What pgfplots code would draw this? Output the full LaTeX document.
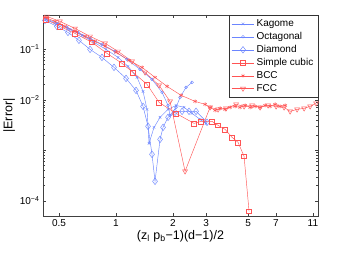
\documentclass[border=0pt]{standalone}
\usepackage{fontspec}
\setmainfont{Liberation Sans}
\usepackage{pgfplots}
\pgfplotsset{compat=1.18}
\definecolor{mblue}{rgb}{0.42,0.52,1.0}
\definecolor{mred}{rgb}{1.0,0.33,0.33}
\begin{document}
\begin{tikzpicture}
\begin{axis}[
  scale only axis, width=275pt, height=201pt,
  xmode=log, ymode=log,
  xmin=0.411, xmax=11.7, ymin=5e-5, ymax=0.48,
  xtick={0.5,1,2,3,5,7,11}, xticklabels={0.5,1,2,3,5,7,11},
  minor xtick={},
  ytick={1e-4,1e-3,1e-2,1e-1},
  yticklabels={10\textsuperscript{−4},,10\textsuperscript{−2},10\textsuperscript{−1}},
  tick label style={font=\fontsize{10}{12}\selectfont},
  xlabel={(z\textsubscript{l} p\textsubscript{b}−1)(d−1)/2},
  ylabel={|Error|},
  label style={font=\fontsize{12.5}{14}\selectfont},
  xlabel style={yshift=3pt},
  ylabel style={yshift=-2pt},
  axis line style={black!75, line width=0.5pt},
  every tick/.style={black!75, line width=0.4pt},
  major tick length=3.5pt, minor tick length=2pt,
  legend style={at={(1,1)}, anchor=north east, draw=black!80, font=\fontsize{10}{12}\selectfont, row sep=0.3pt, inner sep=2.5pt},
  legend cell align=left,
  legend image code/.code={\draw[mark repeat=2,mark phase=2] plot coordinates {(0cm,0cm) (0.4cm,0cm) (0.8cm,0cm)};},
  every axis plot/.append style={line width=0.45pt},
]
\addplot[mblue, mark=x, mark size=1.8pt] coordinates {
(0.421,0.411)(0.493,0.327)(0.571,0.249)(0.661,0.189)(0.765,0.138)(0.885,0.100)(1.025,0.0694)(1.157,0.0461)(1.292,0.0279)(1.390,0.0147)(1.459,0.00648)(1.495,0.00138)(1.589,0.00285)(1.710,0.00450)(1.884,0.00648)(2.077,0.00778)(2.290,0.00710)(2.524,0.00540)(2.783,0.00411)(2.994,0.00342)};
\addlegendentry{Kagome}
\addplot[mblue, mark=o, mark size=1.4pt] coordinates {
(0.421,0.393)(0.481,0.327)(0.550,0.273)(0.629,0.217)(0.729,0.165)(0.843,0.126)(0.988,0.0913)(1.143,0.0634)(1.340,0.0402)(1.550,0.0255)(1.752,0.0141)(1.884,0.00778)(1.931,0.00493)(2.077,0.00710)(2.182,0.0112)(2.346,0.0177)(2.524,0.0222)};
\addlegendentry{Octagonal}
\addplot[mblue, mark=diamond, mark size=3.3pt] coordinates {
(0.421,0.375)(0.487,0.285)(0.557,0.217)(0.637,0.151)(0.729,0.100)(0.843,0.0694)(0.976,0.0440)(1.130,0.0266)(1.276,0.0154)(1.390,0.00743)(1.477,0.00299)(1.550,0.000833)(1.608,0.000243)(1.710,0.00165)(1.773,0.00285)(1.884,0.00450)(2.052,0.00566)(2.235,0.00592)(2.433,0.00592)(2.650,0.00592)(3.030,0.00359)};
\addlegendentry{Diamond}
\addplot[mred, mark=square, mark size=2.4pt] coordinates {
(0.426,0.393)(0.505,0.285)(0.607,0.207)(0.746,0.138)(0.896,0.0833)(1.076,0.0528)(1.230,0.0350)(1.459,0.0203)(1.689,0.00892)(2.077,0.00540)(2.587,0.00342)(2.817,0.00375)(3.220,0.00375)(3.465,0.00313)(3.774,0.00260)(4.110,0.00181)(4.421,0.00144)(4.756,0.000761)(5.053,0.0000620)};
\addlegendentry{Simple cubic\hspace{9pt}}
\addplot[mred, mark=asterisk, mark size=2.1pt] coordinates {
(0.421,0.430)(0.476,0.359)(0.537,0.285)(0.607,0.227)(0.686,0.181)(0.774,0.144)(0.875,0.115)(1.0,0.0872)(1.172,0.0606)(1.373,0.0440)(1.608,0.0279)(1.862,0.0185)(2.208,0.0123)(2.618,0.00934)(2.957,0.00815)(3.142,0.00710)(3.340,0.00620)(3.550,0.00679)(3.774,0.00648)(4.010,0.00710)(4.263,0.00743)(4.530,0.00710)(4.814,0.00778)(5.117,0.00710)(5.437,0.00743)(5.781,0.00710)(6.144,0.00778)(6.530,0.00743)(6.939,0.00815)(7.375,0.00743)(7.838,0.00778)};
\addlegendentry{BCC}
\addplot[mred, mark=triangle, mark size=2.8pt, mark options={rotate=180}] coordinates {
(0.431,0.450)(0.505,0.359)(0.607,0.260)(0.729,0.181)(0.875,0.132)(1.025,0.0913)(1.215,0.0579)(1.424,0.0350)(1.689,0.0194)(1.931,0.00934)(2.318,0.000384)(3.142,0.00710)(3.465,0.00648)(3.819,0.00679)(4.315,0.00815)(4.756,0.00743)(5.243,0.00778)(5.781,0.00710)(6.373,0.00778)(7.025,0.00743)(7.743,0.00710)(8.329,0.00592)(9.071,0.00648)(9.879,0.00679)(10.63,0.00743)(11.43,0.00852)};
\addlegendentry{FCC}
\end{axis}
\pgfresetboundingbox
\path (current axis.south west) ++(-43pt,-39pt) rectangle ([shift={(23pt,15pt)}]current axis.north east);
\end{tikzpicture}
\end{document}
